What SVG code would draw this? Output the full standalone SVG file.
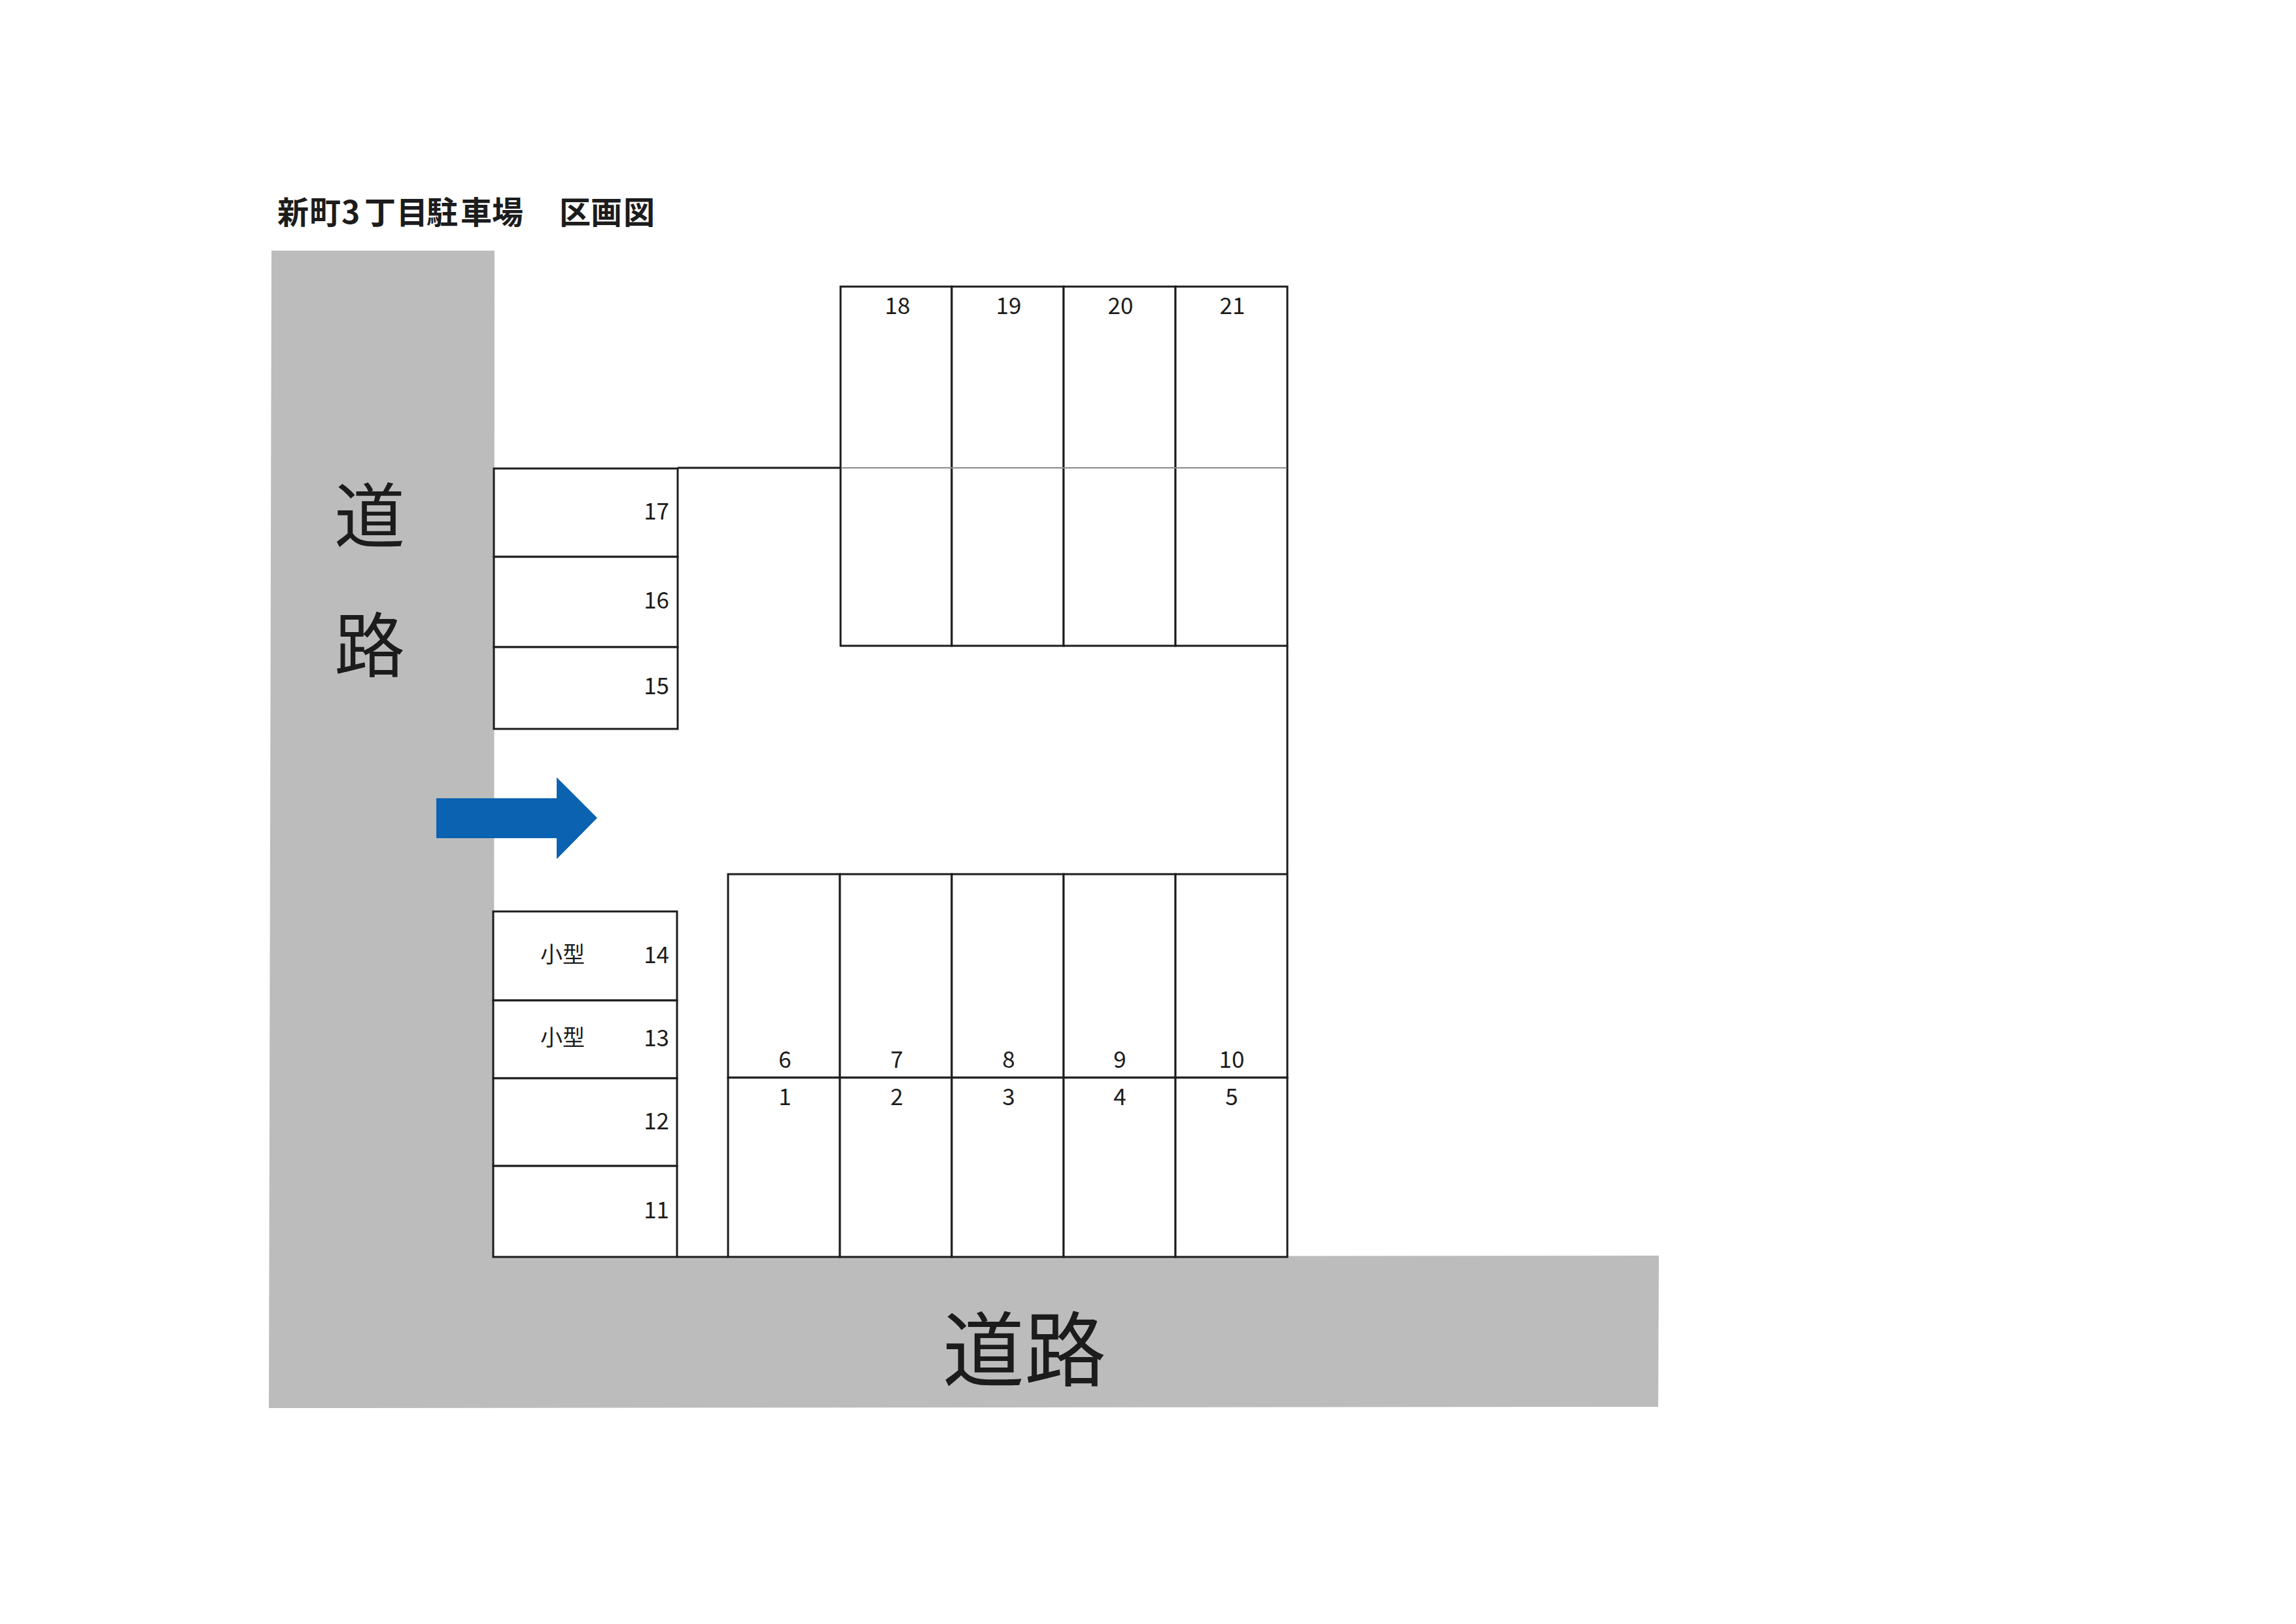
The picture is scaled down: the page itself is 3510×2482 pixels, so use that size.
<svg xmlns="http://www.w3.org/2000/svg" width="3510" height="2482" viewBox="0 0 3510 2482">
<style>
.slot{fill:#fff;stroke:#1c1c1c;stroke-width:3}
.wall{fill:none;stroke:#1c1c1c;stroke-width:3}
.thin{fill:none;stroke:#8a8a8a;stroke-width:2}
text{font-family:"Noto Sans CJK JP","Liberation Sans",sans-serif;fill:#1c1c1c}
.n{font-size:35px}
.c{text-anchor:middle}
.r{text-anchor:end}
.k{font-size:34px}
.road{font-size:108px}
.road2{font-size:125px}
.title{font-size:48px;font-weight:700}
</style>
<rect width="3510" height="2482" fill="#fff"/>
<g id="road">
<polygon points="415,383 756,383 755,1921 2536,1919 2535,2150 411,2152" fill="#bcbcbc"/>
<text class="road c" x="565" y="828">道</text>
<text class="road c" x="565" y="1026">路</text>
<text class="road2" x="1441" y="2109">道路</text>
</g>
<text id="title" class="title" x="424 473 522 557 606 652 704 752 803 855 903 953" y="342">新町3丁目駐車場　区画図</text>
<g id="connectors">
<path class="wall" d="M1036 715H1284"/>
<path class="wall" d="M1968 987V1335"/>
<path class="wall" d="M1035 1921H1113"/>
</g>
<g id="slot-17"><rect class="slot" x="755" y="716" width="281" height="135"/><text class="n r" x="1023" y="794">17</text></g>
<g id="slot-16"><rect class="slot" x="755" y="851" width="281" height="138"/><text class="n r" x="1023" y="930">16</text></g>
<g id="slot-15"><rect class="slot" x="755" y="989" width="281" height="125"/><text class="n r" x="1023" y="1061">15</text></g>
<g id="slot-14"><rect class="slot" x="754" y="1393" width="281" height="136"/><text class="k" x="826" y="1471">小型</text><text class="n r" x="1023" y="1472">14</text></g>
<g id="slot-13"><rect class="slot" x="754" y="1529" width="281" height="119"/><text class="k" x="826" y="1598">小型</text><text class="n r" x="1023" y="1599">13</text></g>
<g id="slot-12"><rect class="slot" x="754" y="1648" width="281" height="134"/><text class="n r" x="1023" y="1726">12</text></g>
<g id="slot-11"><rect class="slot" x="754" y="1782" width="281" height="139"/><text class="n r" x="1023" y="1862">11</text></g>
<g id="slot-6"><rect class="slot" x="1113" y="1336" width="171" height="311"/><text class="n c" x="1200" y="1632">6</text></g>
<g id="slot-7"><rect class="slot" x="1284" y="1336" width="171" height="311"/><text class="n c" x="1371" y="1632">7</text></g>
<g id="slot-8"><rect class="slot" x="1455" y="1336" width="171" height="311"/><text class="n c" x="1542" y="1632">8</text></g>
<g id="slot-9"><rect class="slot" x="1626" y="1336" width="171" height="311"/><text class="n c" x="1712" y="1632">9</text></g>
<g id="slot-10"><rect class="slot" x="1797" y="1336" width="171" height="311"/><text class="n c" x="1883" y="1632">10</text></g>
<g id="slot-1"><rect class="slot" x="1113" y="1647" width="171" height="274"/><text class="n c" x="1200" y="1689">1</text></g>
<g id="slot-2"><rect class="slot" x="1284" y="1647" width="171" height="274"/><text class="n c" x="1371" y="1689">2</text></g>
<g id="slot-3"><rect class="slot" x="1455" y="1647" width="171" height="274"/><text class="n c" x="1542" y="1689">3</text></g>
<g id="slot-4"><rect class="slot" x="1626" y="1647" width="171" height="274"/><text class="n c" x="1712" y="1689">4</text></g>
<g id="slot-5"><rect class="slot" x="1797" y="1647" width="171" height="274"/><text class="n c" x="1883" y="1689">5</text></g>
<g id="slot-18"><rect class="slot" x="1285" y="438" width="170" height="549"/><text class="n c" x="1372" y="480">18</text></g>
<g id="slot-19"><rect class="slot" x="1455" y="438" width="171" height="549"/><text class="n c" x="1542" y="480">19</text></g>
<g id="slot-20"><rect class="slot" x="1626" y="438" width="171" height="549"/><text class="n c" x="1713" y="480">20</text></g>
<g id="slot-21"><rect class="slot" x="1797" y="438" width="171" height="549"/><text class="n c" x="1884" y="480">21</text></g>
<path class="thin" d="M1286 715H1966"/>
<polygon id="entrance-arrow" points="667,1220 851,1220 851,1188 913,1250 851,1313 851,1281 667,1281" fill="#0b62b0"/>
</svg>
